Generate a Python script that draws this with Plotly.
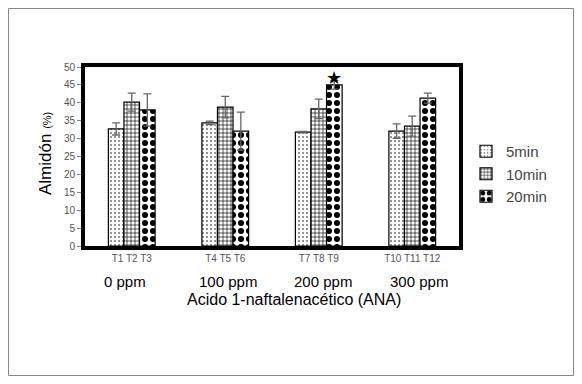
import plotly.graph_objects as go

categories = ["0 ppm", "100 ppm", "200 ppm", "300 ppm"]
tick_labels = ["T1 T2 T3", "T4 T5 T6", "T7 T8 T9", "T10 T11 T12"]
series_names = ["5min", "10min", "20min"]
v5 = [32.7, 34.4, 31.8, 32.1]
e5 = [1.7, 0.5, 0.2, 2.0]
v10 = [40.2, 38.8, 38.3, 33.5]
e10 = [2.5, 3.0, 2.7, 2.8]
v20 = [38.0, 32.1, 45.0, 41.3]
e20 = [4.5, 5.3, 1.2, 1.4]

OFF = 8  # page body margin
W, H = 582 - 2 * OFF, 384 - 2 * OFF
L, T = 85 - OFF, 67 - OFF
pw, ph = 374, 179
R, B = W - L - pw, H - T - ph
bottom_px = 246  # reference pixel of plot bottom


def py(p):
    return (bottom_px - p) / ph


def px(p):
    return (p - 85) / pw


fig = go.Figure()
patterns = [
    dict(shape=".", fgcolor="#000", bgcolor="#fff", size=4, solidity=0.12, fgopacity=1),
    dict(shape="+", fgcolor="#000", bgcolor="#fff", size=4, solidity=0.3, fgopacity=1),
    dict(shape=".", fgcolor="#000", bgcolor="#fff", size=8, solidity=0.45, fgopacity=1),
]
for name, vals, errs, pat in zip(series_names, [v5, v10, v20], [e5, e10, e20], patterns):
    fig.add_trace(go.Bar(
        x=categories, y=vals, name=name,
        marker=dict(color="#fff", pattern=pat, line=dict(color="#000", width=1.2)),
        error_y=dict(type="data", array=errs, color="#666", thickness=1.3, width=4),
    ))

fig.add_annotation(x=categories[2], y=v20[2], xref="x", yref="y", text="★",
                   showarrow=False, xshift=15.6, yshift=7, font=dict(size=18, color="#000"))

shifts = [-7, 3, 4, 7]
for c, s in zip(categories, shifts):
    fig.add_annotation(x=c, y=py(281), xref="x", yref="paper", text=c, showarrow=False,
                       xshift=s, yanchor="middle", font=dict(size=15, color="#000"))

fig.add_annotation(x=px(294), y=py(299), xref="paper", yref="paper",
                   text="Acido 1-naftalenacético (ANA)", showarrow=False,
                   yanchor="middle", font=dict(size=16, color="#000"))

fig.add_annotation(x=px(45), y=py(154), xref="paper", yref="paper", textangle=-90,
                   text="Almidón <span style='font-size:11px'>(%)</span>", showarrow=False,
                   xanchor="center", yanchor="middle", font=dict(size=17, color="#000"))

fig.add_shape(type="rect", xref="paper", yref="paper",
              x0=(0.5 - L) / pw, x1=(W - 0.5 - L) / pw,
              y0=(T + ph - (H - 0.5)) / ph, y1=(T + ph - 0.5) / ph,
              line=dict(color="#888", width=1))

fig.update_layout(
    width=W, height=H, margin=dict(l=L, r=R, t=T, b=B),
    barmode="group", bargap=0.5, bargroupgap=0,
    plot_bgcolor="#fff", paper_bgcolor="#fff",
    font=dict(family="Liberation Sans, Arial, sans-serif", color="#000"),
    showlegend=True,
    legend=dict(x=px(466), y=py(135), xanchor="left", yanchor="top",
                font=dict(size=15, color="#444"), bgcolor="rgba(0,0,0,0)",
                itemwidth=30, tracegroupgap=4),
    xaxis=dict(tickvals=categories, ticktext=tick_labels, showline=True, linecolor="#000",
               linewidth=4, mirror=True, ticks="", tickfont=dict(size=10, color="#555")),
    yaxis=dict(range=[0, 50], dtick=5, showline=True, linecolor="#000", linewidth=4, mirror=True,
               ticks="outside", ticklen=4, tickcolor="#888", showgrid=False, zeroline=False,
               tickfont=dict(size=10, color="#555")),
)

fig.write_html("out.html")
